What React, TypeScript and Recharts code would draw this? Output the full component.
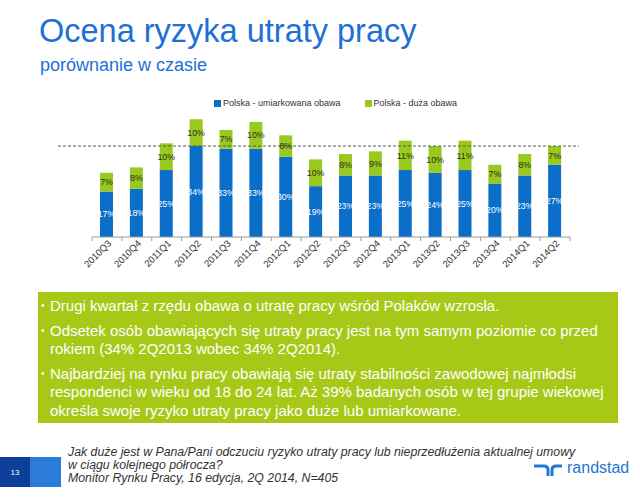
import React from "react";
import { BarChart, Bar, XAxis, YAxis, LabelList, ReferenceLine } from "recharts";

const quarters = [
  "2010Q3", "2010Q4", "2011Q1", "2011Q2", "2011Q3", "2011Q4", "2012Q1", "2012Q2",
  "2012Q3", "2012Q4", "2013Q1", "2013Q2", "2013Q3", "2013Q4", "2014Q1", "2014Q2",
];
const moderate = [17, 18, 25, 34, 33, 33, 30, 19, 23, 23, 25, 24, 25, 20, 23, 27];
const high = [7, 8, 10, 10, 7, 10, 8, 10, 8, 9, 11, 10, 11, 7, 8, 7];
const refLevel = 34;

const seriesNames = ["Polska - umiarkowana obawa", "Polska - duża obawa"];
const seriesColors = ["#0b6ec8", "#99c91c"];

const bullets = [
  ["Drugi kwartał z rzędu obawa o utratę pracy wśród Polaków wzrosła."],
  [
    "Odsetek osób obawiających się utraty pracy jest na tym samym poziomie co przed",
    "rokiem (34% 2Q2013 wobec 34% 2Q2014).",
  ],
  [
    "Najbardziej na rynku pracy obawiają się utraty stabilności zawodowej najmłodsi",
    "respondenci w wieku od 18 do 24 lat. Aż 39% badanych osób w tej grupie wiekowej",
    "określa swoje ryzyko utraty pracy jako duże lub umiarkowane.",
  ],
];

const footnote = [
  "Jak duże jest w Pana/Pani odczuciu ryzyko utraty pracy lub nieprzedłużenia aktualnej umowy",
  "w ciągu kolejnego półrocza?",
  "Monitor Rynku Pracy, 16 edycja, 2Q 2014, N=405",
];

const data = quarters.map((q, i) => ({ quarter: q, moderate: moderate[i], high: high[i] }));

const font = "'Liberation Sans', Arial, sans-serif";
const pct = (v: any) => `${v}%`;

// category ticks sit between the bars, labels rotated under each bar
const QuarterTick = (props: any) => {
  const { x, y, payload, index, visibleTicksCount } = props;
  const half = payload?.offset || 15;
  const axisY = y - 6;
  return (
    <g>
      <line x1={x - half} y1={axisY} x2={x - half} y2={axisY + 4} stroke="#9a9a9a" />
      {index === visibleTicksCount - 1 && (
        <line x1={x + half} y1={axisY} x2={x + half} y2={axisY + 4} stroke="#9a9a9a" />
      )}
      <text
        x={x + 5}
        y={y + 1}
        textAnchor="end"
        fontSize={9.5}
        fontFamily={font}
        fill="#333"
        transform={`rotate(-45 ${x + 5} ${y + 1})`}
      >
        {payload.value}
      </text>
    </g>
  );
};

const DashedLevel = (p: any) => (
  <line
    x1={p.x1 - 34}
    y1={p.y1}
    x2={p.x2 + 9}
    y2={p.y2}
    stroke="#555"
    strokeDasharray="3 2"
    strokeWidth={1}
  />
);

export default function App() {
  return (
    <div style={{ position: "relative", width: 640, height: 500, background: "#fff", fontFamily: font, overflow: "hidden" }}>
      <style>{"body{margin:0}"}</style>
      <div style={{ position: "absolute", left: 39, top: 15, fontSize: 32.5, lineHeight: 1, color: "#1e6fd6", whiteSpace: "nowrap" }}>
        Ocena ryzyka utraty pracy
      </div>
      <div style={{ position: "absolute", left: 40, top: 56, fontSize: 18, lineHeight: 1, color: "#1e6fd6", whiteSpace: "nowrap" }}>
        porównanie w czasie
      </div>

      <div style={{ position: "absolute", left: 214, top: 98, display: "flex", fontSize: 9, color: "#333", whiteSpace: "nowrap" }}>
        {seriesNames.map((n, i) => (
          <div key={n} style={{ display: "flex", alignItems: "center", marginRight: 24 }}>
            <span style={{ display: "inline-block", width: 7, height: 7, background: seriesColors[i], marginRight: 2 }} />
            {n}
          </div>
        ))}
      </div>

      <div style={{ position: "absolute", left: 0, top: 0 }}>
        <BarChart
          width={640}
          height={300}
          data={data}
          margin={{ top: 103.2, right: 70, bottom: 3, left: 92 }}
          barSize={13}
        >
          <XAxis
            dataKey="quarter"
            height={60}
            interval={0}
            tickLine={false}
            tickSize={4}
            tickMargin={2}
            axisLine={{ stroke: "#9a9a9a" }}
            tick={<QuarterTick />}
          />
          <YAxis hide domain={[0, 50]} />
          <ReferenceLine y={refLevel} ifOverflow="visible" shape={DashedLevel} />
          <Bar dataKey="moderate" stackId="a" fill={seriesColors[0]} isAnimationActive={false}>
            <LabelList dataKey="moderate" position="center" formatter={pct} fill="#fff" fontSize={8.8} fontFamily={font} />
          </Bar>
          <Bar dataKey="high" stackId="a" fill={seriesColors[1]} isAnimationActive={false}>
            <LabelList dataKey="high" position="center" formatter={pct} fill="#2a2a2a" fontSize={8.8} fontFamily={font} />
          </Bar>
        </BarChart>
      </div>

      <div
        style={{
          position: "absolute",
          left: 38,
          top: 292,
          width: 580,
          height: 131,
          background: "#a8c818",
          color: "#fff",
          fontSize: 15,
          lineHeight: "18.5px",
          paddingTop: 5,
          boxSizing: "border-box",
          whiteSpace: "nowrap",
        }}
      >
        {bullets.map((lines, i) => (
          <div key={i} style={{ position: "relative", paddingLeft: 12, marginTop: i === 0 ? 0 : 6 }}>
            <span style={{ position: "absolute", left: 3, fontSize: 10 }}>•</span>
            {lines.map((l) => (
              <div key={l}>{l}</div>
            ))}
          </div>
        ))}
      </div>

      <div style={{ position: "absolute", left: 0, top: 457, width: 30, height: 30, background: "#0d3f98", color: "#fff", fontSize: 8, display: "flex", alignItems: "center", justifyContent: "center" }}>
        13
      </div>
      <div style={{ position: "absolute", left: 30, top: 457, width: 31, height: 30, background: "#2b7bdb" }} />

      <div style={{ position: "absolute", left: 68, top: 446, fontSize: 12.3, lineHeight: "13px", fontStyle: "italic", color: "#333", whiteSpace: "nowrap" }}>
        {footnote.map((l) => (
          <div key={l}>{l}</div>
        ))}
      </div>

      <svg style={{ position: "absolute", left: 530, top: 458 }} width={36} height={22}>
        <path d="M4 8 H14 Q18 8 18 12 V18" fill="none" stroke="#1f78d1" strokeWidth={3} />
        <path d="M22 18 V12 Q22 8 26 8 H32" fill="none" stroke="#1f78d1" strokeWidth={3} />
      </svg>
      <div style={{ position: "absolute", left: 567, top: 460, fontSize: 16, lineHeight: 1, color: "#1f78d1", whiteSpace: "nowrap" }}>
        randstad
      </div>
    </div>
  );
}
